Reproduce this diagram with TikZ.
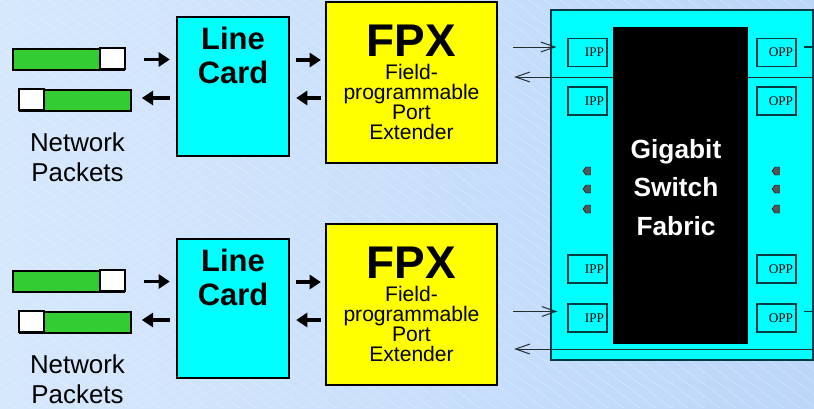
\documentclass[tikz,border=0pt]{standalone}
\usepackage{fontspec}
\setmainfont{Liberation Sans}
\newfontfamily\portfont{Liberation Serif}
\usetikzlibrary{positioning, arrows.meta, calc}

\definecolor{bgleft}{RGB}{214,232,252}
\definecolor{bgright}{RGB}{188,214,250}
\definecolor{pktgreen}{RGB}{51,204,51}
\definecolor{cardcyan}{RGB}{0,255,255}
\definecolor{fpxyellow}{RGB}{255,255,0}
\definecolor{fabline}{RGB}{0,60,65}
\definecolor{dotgray}{RGB}{85,85,85}
\definecolor{wiregray}{RGB}{35,45,50}

\begin{document}
\begin{tikzpicture}[x=0.025cm, y=-0.025cm,
    box/.style={draw, line width=1.6pt, inner sep=0pt},
    fat/.style={line width=2.6pt, -{Triangle[length=8pt,width=10pt]}},
    wire/.style={wiregray, line width=0.7pt, -{Straight Barb[length=10pt,width=7pt]}},
    port/.style={draw=fabline, line width=0.8pt, fill=cardcyan, minimum height=0.7cm,
        text width=0.825cm, align=right, inner sep=0.075cm,
        font=\portfont\fontsize{9.4}{10}\selectfont}]
    \useasboundingbox (0,0) rectangle (814,408);
    \shade[left color=bgleft, right color=bgright] (0,0) rectangle (814,408);
    \begin{scope}
        \clip (0,0) rectangle (814,408);
        \foreach \x in {-560,-544,...,814}
            \draw[white, opacity=0.3, line width=0.4pt] (\x,0) -- ++(544,408);
    \end{scope}

    \foreach \o/\r in {0/1,222/2} {
        % packets
        \node[box, fill=pktgreen, minimum width=2.775cm, minimum height=0.525cm] (pa\r) at (68.5,59.5+\o) {};
        \draw[box, fill=white] (pa\r.north east) rectangle ++(-25,21);
        \node[box, fill=pktgreen, minimum width=2.775cm, minimum height=0.525cm] (pb\r) at (75.5,100.5+\o) {};
        \draw[box, fill=white] (pb\r.north west) rectangle ++(25,21);
        \node[anchor=base, align=center, inner sep=0pt, font=\fontsize{18.4}{21.3}\selectfont] (np\r) at (77.5,181+\o) {Network\\Packets};

        % line card
        \node[box, fill=cardcyan, minimum width=2.8cm, minimum height=3.475cm] (lc\r) at (233,86.5+\o) {};
        \node[anchor=base, align=center, inner sep=0pt, font=\bfseries\fontsize{22}{24}\selectfont] (lct\r) at (lc\r.north |- 0,83+\o) {Line\\Card};

        % fpx
        \node[box, fill=fpxyellow, minimum width=4.275cm, minimum height=4.025cm] (fpx\r) at (411.5,82.5+\o) {};
        \node[anchor=base, inner sep=0pt, text depth=0pt, font=\bfseries\fontsize{32.6}{34}\selectfont] (fpxt\r) at (fpx\r.north |- 0,56.5+\o) {FPX};
        \node[anchor=base, align=center, inner sep=0pt, font=\fontsize{15}{14.2}\selectfont] (fpxd\r) at (fpx\r.north |- 0,139+\o) {Field-\\programmable\\Port\\Extender};

        \draw[fat] ($(pa\r.east)+(19,0)$) -- ($(lc\r.west |- pa\r.east)+(-6,0)$);
        \draw[fat] ($(lc\r.west |- 0,98+\o)+(-6,0)$) -- ($(lc\r.west |- 0,98+\o)+(-34,0)$);
        \draw[fat] ($(lc\r.east |- 0,60+\o)+(6,0)$) -- ($(fpx\r.west |- 0,60+\o)+(-4,0)$);
        \draw[fat] ($(fpx\r.west |- 0,98+\o)+(-4,0)$) -- ($(lc\r.east |- 0,98+\o)+(6,0)$);
    }

    % switch fabric
    \node[draw=fabline, line width=1pt, fill=cardcyan, minimum width=6.55cm, minimum height=8.75cm, inner sep=0pt] (fab) at (682,185) {};
    \coordinate (o1) at (fab.east |- 0,77);
    \coordinate (o2) at (fab.east |- 0,349);
    \draw[wire] (o1) -- ($(fpx1.east |- o1)+(16,0)$);
    \draw[wire] (o2) -- ($(fpx2.east |- o2)+(16,0)$);
    \node[fill=black, minimum width=3.375cm, minimum height=7.925cm, inner sep=0pt] (core) at (680.5,185.5) {};
    \node[anchor=base, align=center, inner sep=0pt, text=white, font=\bfseries\fontsize{18.7}{27.3}\selectfont] (fabt) at (676,235) {Gigabit\\Switch\\Fabric};

    \foreach \y/\n in {52.5/1,101/2,269/3,318/4} {
        \node[port] (ipp\n) at (587.5,\y) {IPP};
        \node[port] (opp\n) at (776.5,\y) {OPP};
    }
    \foreach \x in {587,776}
        \foreach \y in {171,189,209}
            \filldraw[fill=dotgray, draw=black, line width=0.3pt] (\x+3.5,\y-4) -- (\x-1,\y-4) -- (\x-4,\y) -- (\x-1,\y+4) -- (\x+3.5,\y+4) -- cycle;

    \draw[wire] ($(fpx1.east |- ipp1.west)+(15,-5.5)$) -- ($(ipp1.west)+(-11,-5.5)$);
    \draw[wire] ($(fpx2.east |- ipp4.west)+(15,-6.5)$) -- ($(ipp4.west)+(-10,-6.5)$);
    \draw[fabline, line width=0.8pt] ($(opp1.east)+(7,-5.5)$) -- ($(fab.east |- opp1.east)+(0,-5.5)$);
    \draw[fabline, line width=0.8pt] ($(opp4.east)+(7,-6.5)$) -- ($(fab.east |- opp4.east)+(0,-6.5)$);
\end{tikzpicture}
\end{document}
